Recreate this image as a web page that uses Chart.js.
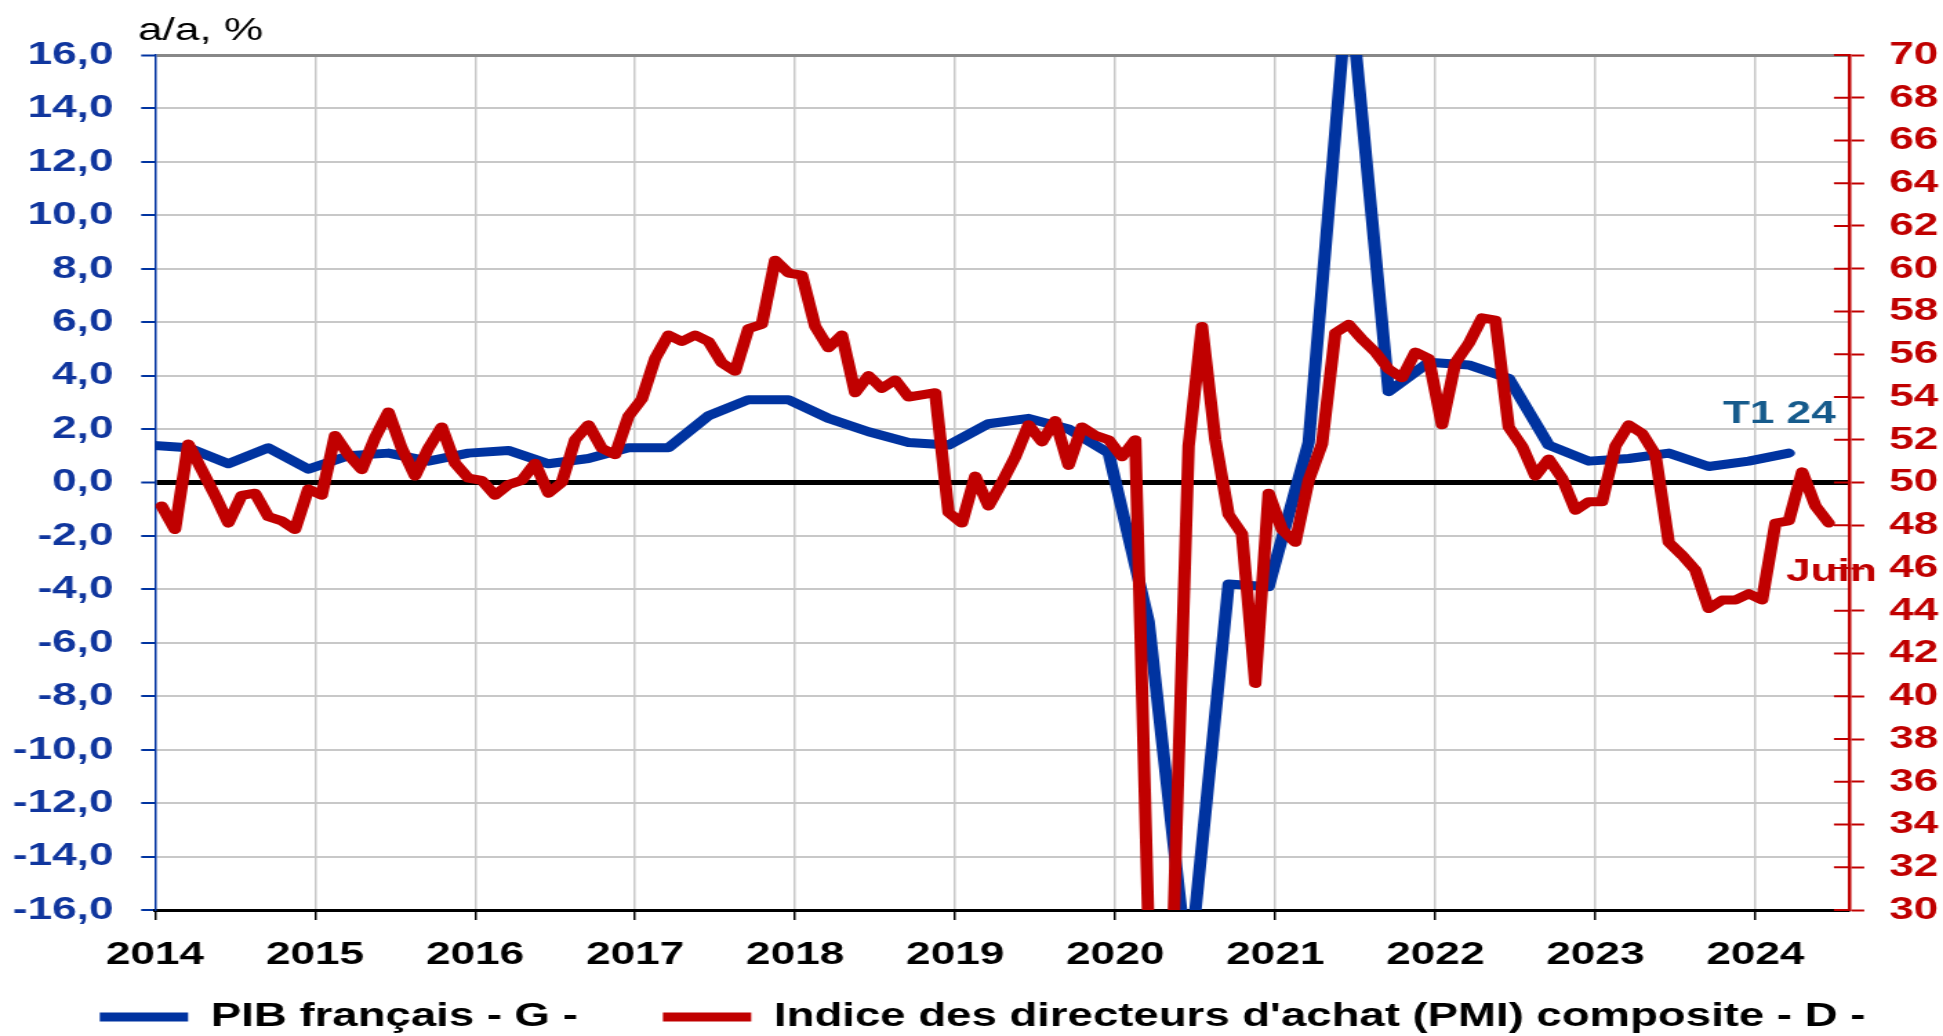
<!DOCTYPE html>
<html lang="fr">
<head>
<meta charset="utf-8">
<title>PIB français et PMI composite</title>
<script src="https://cdn.jsdelivr.net/npm/chart.js@4.4.1/dist/chart.umd.min.js"></script>
<style>
  html, body { margin: 0; padding: 0; background: #fff; overflow: hidden; }
  /* the original picture is stretched sideways, so the canvas is too */
  #wrap { width: 1408px; height: 1036px; transform: scaleX(1.38); transform-origin: 0 0; }
</style>
</head>
<body>
<div id="wrap"><canvas id="chart" width="1408" height="1036"></canvas></div>
<script>
// PIB français, glissement annuel (%), trimestriel, de T4 2013 à T1 2024
const gdpFirstQuarter = [2013, 4];
const gdpValues = [
  1.4,
  1.3, 0.7, 1.3, 0.5,
  1.0, 1.1, 0.8, 1.1,
  1.2, 0.7, 0.9, 1.3,
  1.3, 2.5, 3.1, 3.1,
  2.4, 1.9, 1.5, 1.4,
  2.2, 2.4, 2.0, 1.1,
  -5.2, -18.5, -3.8, -3.9,
  1.5, 18.9, 3.4, 4.5,
  4.4, 3.9, 1.4, 0.8,
  0.9, 1.1, 0.6, 0.8,
  1.1
];

// PMI composite, mensuel, de janvier 2014 à juin 2024
const pmiFirstMonth = [2014, 1];
const pmiValues = [
  48.9, 47.8, 51.8, 50.6, 49.4, 48.1, 49.4, 49.5, 48.4, 48.2, 47.8, 49.7, // 2014
  49.4, 52.2, 51.3, 50.6, 52.1, 53.3, 51.6, 50.3, 51.6, 52.6, 50.9, 50.2, // 2015
  50.1, 49.4, 49.9, 50.1, 50.9, 49.5, 50.0, 52.0, 52.7, 51.6, 51.3, 53.1, // 2016
  53.9, 55.8, 56.9, 56.6, 56.9, 56.6, 55.6, 55.2, 57.2, 57.4, 60.4, 59.8, // 2017
  59.7, 57.3, 56.3, 56.9, 54.2, 55.0, 54.4, 54.8, 54.0, 54.1, 54.2, 48.6, // 2018
  48.1, 50.3, 48.9, 50.0, 51.2, 52.7, 51.9, 52.9, 50.8, 52.6, 52.2, 52.0, // 2019
  51.2, 52.0, 28.9, 11.1, 32.1, 51.7, 57.3, 52.0, 48.5, 47.6, 40.6, 49.5, // 2020
  47.8, 47.2, 50.1, 51.8, 57.0, 57.4, 56.7, 56.1, 55.3, 54.9, 56.1, 55.8, // 2021
  52.7, 55.6, 56.5, 57.7, 57.6, 52.6, 51.7, 50.3, 51.1, 50.2, 48.7, 49.1, // 2022
  49.1, 51.7, 52.7, 52.3, 51.3, 47.2, 46.6, 45.9, 44.1, 44.5, 44.5, 44.8, // 2023
  44.5, 48.1, 48.2, 50.5, 48.9, 48.1                                      // 2024
];

const seriesLabels = ['PIB français - G -', "Indice des directeurs d'achat (PMI) composite - D -"];
const xRange = [2014, 2024.585];
const leftRange = [-16, 16];
const rightRange = [30, 70];

const BLUE = '#0033a0';
const BLUE_TEXT = '#10369e';
const RED = '#c00000';
const FONT = '"Liberation Sans", Arial, sans-serif';

// each point sits in the middle of its month (quarters on their last month)
const gdpPoints = gdpValues.map((v, i) => {
  const q = gdpFirstQuarter[1] - 1 + i;
  const year = gdpFirstQuarter[0] + Math.floor(q / 4);
  const month = (q % 4) * 3 + 3;
  return { x: year + (month - 0.5) / 12, y: v };
});
const pmiPoints = pmiValues.map((v, i) => {
  const m = pmiFirstMonth[1] - 1 + i;
  return { x: pmiFirstMonth[0] + (m + 0.5) / 12, y: v };
});

// title of the left axis, end labels, and the inner half of the right ticks
const annotations = {
  id: 'annotations',
  afterDraw(chart) {
    const ctx = chart.ctx;
    ctx.save();
    ctx.textBaseline = 'alphabetic';

    ctx.font = '32px ' + FONT;
    ctx.fillStyle = '#000';
    ctx.textAlign = 'left';
    ctx.fillText('a/a, %', 100, 40);

    const gdpMeta = chart.getDatasetMeta(0);
    const lastGdp = gdpMeta.data[gdpMeta.data.length - 1];
    ctx.font = 'bold 32px ' + FONT;
    ctx.fillStyle = '#165b8c';
    ctx.textAlign = 'right';
    ctx.fillText('T1 24', lastGdp.x + 34, lastGdp.y - 30);

    const pmiMeta = chart.getDatasetMeta(1);
    const lastPmi = pmiMeta.data[pmiMeta.data.length - 1];
    ctx.fillStyle = RED;
    ctx.textAlign = 'left';
    ctx.fillText('Juin', lastPmi.x - 31, lastPmi.y + 58);

    const r = chart.scales.yRight;
    ctx.strokeStyle = RED;
    ctx.lineWidth = 2;
    r.ticks.forEach(t => {
      const y = r.getPixelForValue(t.value);
      ctx.beginPath();
      ctx.moveTo(r.left - 11, y);
      ctx.lineTo(r.left, y);
      ctx.stroke();
    });
    ctx.restore();
  }
};

new Chart(document.getElementById('chart'), {
  type: 'line',
  data: {
    datasets: [{
      label: seriesLabels[0],
      data: gdpPoints,
      yAxisID: 'y',
      borderColor: BLUE,
      backgroundColor: BLUE,
      borderWidth: 9,
      borderCapStyle: 'round',
      borderJoinStyle: 'round',
      pointRadius: 0,
      tension: 0,
      clip: 0,
      order: 1
    }, {
      label: seriesLabels[1],
      data: pmiPoints,
      yAxisID: 'yRight',
      borderColor: RED,
      backgroundColor: RED,
      borderWidth: 9,
      borderCapStyle: 'round',
      borderJoinStyle: 'round',
      pointRadius: 0,
      tension: 0,
      clip: 0,
      order: 0
    }]
  },
  options: {
    responsive: false,
    animation: false,
    devicePixelRatio: 1,
    // legend sits a little right of centre in the original
    layout: { padding: { top: 55, left: 8, right: -8, bottom: 0 } },
    plugins: {
      tooltip: { enabled: false },
      legend: {
        position: 'bottom',
        maxHeight: 60.5,
        labels: {
          usePointStyle: true,
          pointStyle: 'line',
          pointStyleWidth: 64,
          padding: 25,
          color: '#000',
          font: { family: FONT, size: 33, weight: 'bold' },
          // wider gap after the first item, as in the original
          generateLabels: chart => {
            const items = Chart.defaults.plugins.legend.labels.generateLabels(chart);
            items.forEach(it => { if (it.datasetIndex === 0) it.text += '\u00a0\u00a0\u00a0\u00a0'; });
            return items;
          },
          sort: (a, b) => a.datasetIndex - b.datasetIndex
        }
      }
    },
    scales: {
      x: {
        type: 'linear',
        min: xRange[0],
        max: xRange[1],
        afterFit: s => { s.height = 65.5; },
        ticks: {
          stepSize: 1,
          includeBounds: false,
          autoSkip: false,
          maxRotation: 0,
          padding: 16,
          color: '#000',
          font: { family: FONT, size: 32, weight: 'bold' },
          callback: v => String(v)
        },
        grid: {
          color: c => (c.tick && c.tick.value === xRange[0]) ? 'rgba(0,0,0,0)' : '#c8c8c8',
          lineWidth: 1.5,
          tickColor: '#000',
          tickWidth: 1.5,
          tickLength: 10
        },
        border: { color: '#000', width: 3 }
      },
      y: {
        position: 'left',
        min: leftRange[0],
        max: leftRange[1],
        afterFit: s => { s.width = 104.3; },
        ticks: {
          stepSize: 2,
          maxTicksLimit: 40,
          autoSkip: false,
          padding: 20,
          color: BLUE_TEXT,
          font: { family: FONT, size: 32, weight: 'bold' },
          callback: v => v.toFixed(1).replace('.', ',')
        },
        grid: {
          color: c => {
            const v = c.tick ? c.tick.value : null;
            if (v === 0 || v === leftRange[0]) return '#000';
            if (v === leftRange[1]) return '#888';
            return '#c8c8c8';
          },
          lineWidth: c => {
            const v = c.tick ? c.tick.value : null;
            if (v === 0) return 5;
            if (v === leftRange[1]) return 3;
            return 2;
          },
          tickColor: BLUE,
          tickWidth: 2,
          tickLength: 10
        },
        border: { color: BLUE, width: 1.5 }
      },
      yRight: {
        position: 'right',
        min: rightRange[0],
        max: rightRange[1],
        afterFit: s => { s.width = 76.1; },
        ticks: {
          stepSize: 2,
          maxTicksLimit: 40,
          autoSkip: false,
          padding: 18,
          color: RED,
          font: { family: FONT, size: 32, weight: 'bold' },
          callback: v => String(v)
        },
        grid: {
          drawOnChartArea: false,
          tickColor: RED,
          tickWidth: 2,
          tickLength: 11
        },
        border: { color: RED, width: 2.5 }
      }
    }
  },
  plugins: [annotations]
});
</script>
</body>
</html>
